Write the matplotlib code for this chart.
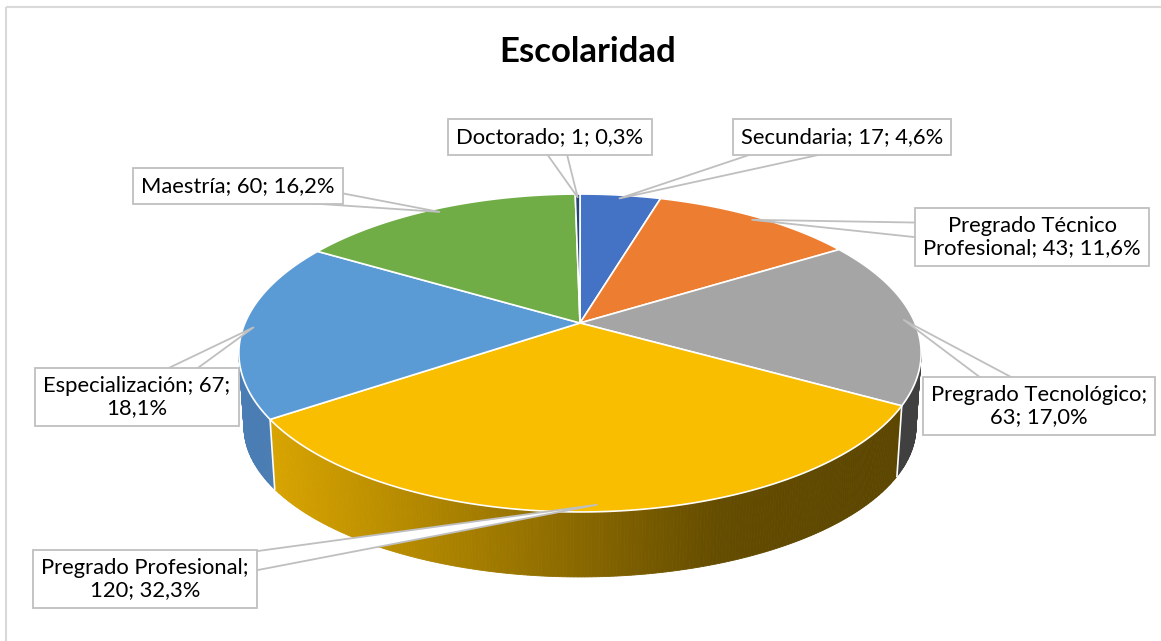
import numpy as np
import matplotlib
matplotlib.use('Agg')
import matplotlib.pyplot as plt
from matplotlib.patches import Polygon, Rectangle

# datos
nombres = ['Secundaria', 'Pregrado Técnico Profesional', 'Pregrado Tecnológico',
           'Pregrado Profesional', 'Especialización', 'Maestría', 'Doctorado']
valores = [17, 43, 63, 120, 67, 60, 1]
etiquetas = ['Secundaria; 17; 4,6%',
             'Pregrado Técnico\nProfesional; 43; 11,6%',
             'Pregrado Tecnológico;\n63; 17,0%',
             'Pregrado Profesional;\n120; 32,3%',
             'Especialización; 67;\n18,1%',
             'Maestría; 60; 16,2%',
             'Doctorado; 1; 0,3%']

colores = ['#4472C4', '#ED7D31', '#A5A5A5', '#F9BE00', '#5B9BD5', '#70AD47', '#264478']
colores_lado = ['#2F5597', '#B35A1F', '#404040', None, '#4A7DB3', '#507E32', '#1A2F54']
pos_caja = [(842, 137), (1032, 237), (1039, 406), (145, 579), (137, 397), (238, 186), (550, 137)]

plt.rcParams['font.family'] = ['Lato', 'DejaVu Sans']

# geometria del pie en perspectiva (pixeles)
CX, CY, RX, RY, D = 580, 323, 335, 153.3, 0.1887


def proj(theta, r=1.0):
    t = np.radians(theta)
    u, v = r * np.sin(t), r * np.cos(t)
    den = 1 + D * v
    return CX + RX * u / den, CY - RY * v / den


def abajo(theta):
    x, y = proj(theta)
    v = np.cos(np.radians(theta))
    return CX + (x - CX) * 0.985, y + 76 + 11 * v


def amarillo(x):
    xs = [270, 460, 720, 900]
    r = np.interp(x, xs, [216, 168, 100, 92])
    g = np.interp(x, xs, [164, 128, 76, 70])
    return (r / 255, g / 255, 0.0)


total = sum(valores)
bordes = np.concatenate([[0], np.cumsum(valores)]) / total * 360
t0 = np.degrees(np.arccos(-D))
vis = (t0, 360 - t0)

fig = plt.figure(figsize=(11.61, 6.41), dpi=100)
ax = fig.add_axes([0, 0, 1, 1])
ax.set_xlim(0, 1161)
ax.set_ylim(641, 0)
ax.axis('off')

ax.add_patch(Rectangle((6, 7), 1200, 700, fill=False, ec='#d9d9d9', lw=1.5))

# lados
for i, v in enumerate(valores):
    a, b = max(bordes[i], vis[0]), min(bordes[i + 1], vis[1])
    if a >= b:
        continue
    ts = np.linspace(a, b, max(3, int((b - a) * 2)))
    for k in range(len(ts) - 1):
        p1, p2 = proj(ts[k]), proj(ts[k + 1])
        q1, q2 = abajo(ts[k]), abajo(ts[k + 1])
        c = amarillo((p1[0] + p2[0]) / 2) if colores_lado[i] is None else colores_lado[i]
        ax.add_patch(Polygon([p1, p2, q2, q1], closed=True, fc=c, ec=c, lw=0.6, zorder=1))
for t in bordes:
    if vis[0] < t < vis[1]:
        ax.plot(*zip(proj(t), abajo(t)), color='white', lw=1.2, zorder=2)

# caras superiores
for i, v in enumerate(valores):
    ts = np.linspace(bordes[i], bordes[i + 1], max(3, int(valores[i] / total * 720)))
    pts = [(CX, CY)] + [proj(t) for t in ts]
    ax.add_patch(Polygon(pts, closed=True, fc=colores[i], ec='white', lw=1.2,
                         joinstyle='round', zorder=3))

# etiquetas con flecha tipo globo
for i, v in enumerate(valores):
    medio = (bordes[i] + bordes[i + 1]) / 2
    txt = ax.text(*pos_caja[i], etiquetas[i], ha='center', va='center',
                  multialignment='center', fontsize=15.8, color='#000000',
                  linespacing=1.1, zorder=6,
                  bbox=dict(boxstyle='square,pad=0.38', fc='white', ec='#bfbfbf', lw=1.3))
    ax.annotate('', xy=proj(medio, 0.97), xytext=pos_caja[i], zorder=5,
                arrowprops=dict(arrowstyle='wedge,tail_width=1.8,shrink_factor=0.5',
                                fc='white', ec='#bfbfbf', lw=1.3, shrinkA=0, shrinkB=0,
                                patchA=txt.get_bbox_patch()))

ax.text(588, 52, 'Escolaridad', ha='center', va='center', fontsize=25,
        fontweight='bold', color='#000000')

fig.savefig('out.png', dpi=100)
